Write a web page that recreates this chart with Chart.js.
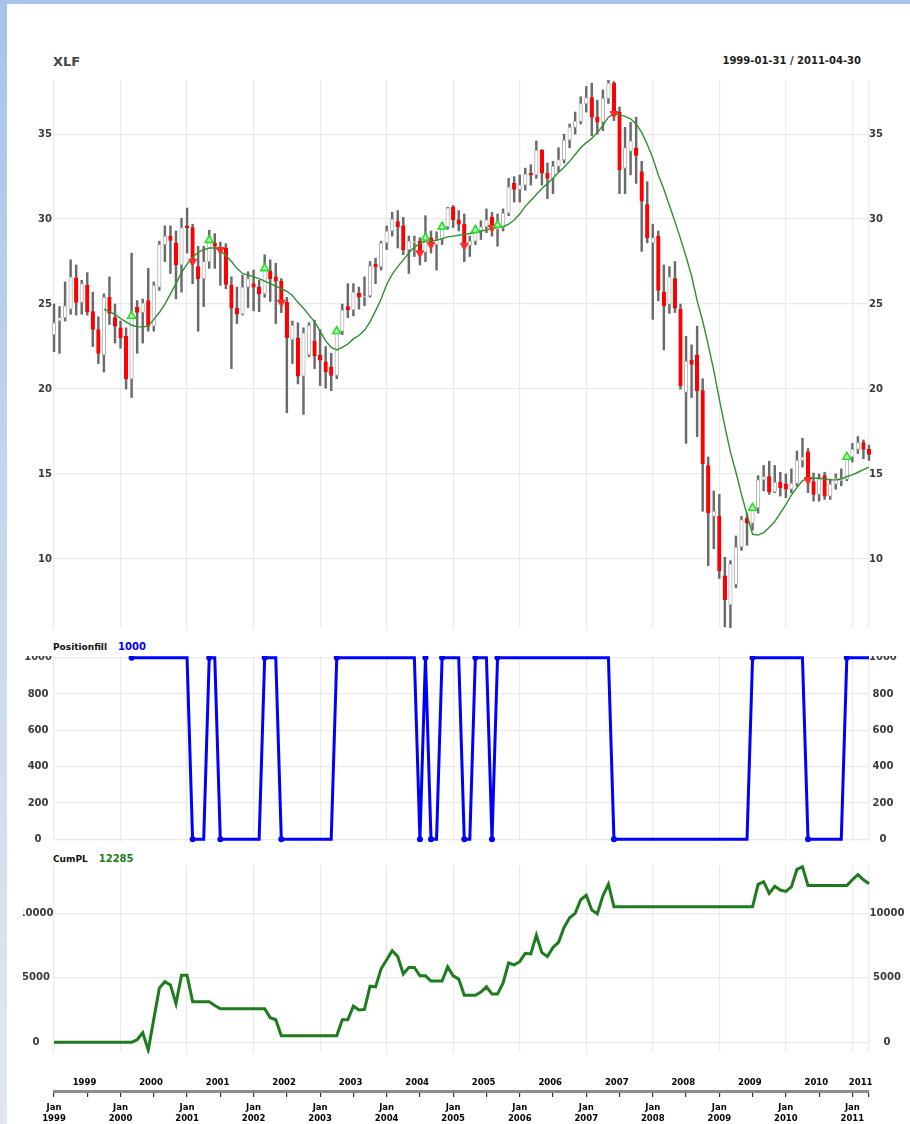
<!DOCTYPE html>
<html>
<head>
<meta charset="utf-8">
<title>XLF</title>
<script src="https://cdn.jsdelivr.net/npm/chart.js@4.4.1/dist/chart.umd.min.js"></script>
<style>
  html, body { margin:0; padding:0; }
  body { width:910px; height:1124px; position:relative; overflow:hidden;
         background: linear-gradient(to bottom, #a7c3e9 0%, #c6d6ec 45%, #e0e7f1 100%);
         font-family: "DejaVu Sans", sans-serif; }
  #sheet { position:absolute; left:7px; top:4px; width:903px; height:1120px; background:#fff; }
  canvas { position:absolute; display:block; }
  .lbl { position:absolute; white-space:nowrap; font-weight:bold; line-height:1; }
</style>
</head>
<body>
<div id="sheet"></div>
<div class="lbl" style="left:53px;top:55px;font-size:13px;color:#464646;">XLF</div>
<div class="lbl" style="right:49px;top:56px;font-size:10px;color:#1c1c1c;">1999-01-31 / 2011-04-30</div>
<div class="lbl" style="left:53px;top:642px;font-size:9px;color:#111;">Positionfill<span id="posVal" style="font-size:10px;color:#0000ff;margin-left:11px;">1000</span></div>
<div class="lbl" style="left:53px;top:854px;font-size:9px;color:#111;">CumPL<span id="plVal" style="font-size:10px;color:#1e7b1e;margin-left:11px;">12285</span></div>
<canvas id="cMain" width="910" height="560" style="left:0;top:74px;width:910px;height:560px;"></canvas>
<canvas id="cPos" width="910" height="190" style="left:0;top:656px;width:910px;height:190px;"></canvas>
<canvas id="cPL" width="887" height="192" style="left:23px;top:862px;width:887px;height:192px;"></canvas>
<canvas id="cAxis" width="910" height="52" style="left:0;top:1072px;width:910px;height:52px;"></canvas>
<script>
// ---------- categories (month ends) ----------
const months = [
"1999-01","1999-02","1999-03","1999-04","1999-05","1999-06","1999-07","1999-08","1999-09","1999-10","1999-11","1999-12",
"2000-01","2000-02","2000-03","2000-04","2000-05","2000-06","2000-07","2000-08","2000-09","2000-10","2000-11","2000-12",
"2001-01","2001-02","2001-03","2001-04","2001-05","2001-06","2001-07","2001-08","2001-09","2001-10","2001-11","2001-12",
"2002-01","2002-02","2002-03","2002-04","2002-05","2002-06","2002-07","2002-08","2002-09","2002-10","2002-11","2002-12",
"2003-01","2003-02","2003-03","2003-04","2003-05","2003-06","2003-07","2003-08","2003-09","2003-10","2003-11","2003-12",
"2004-01","2004-02","2004-03","2004-04","2004-05","2004-06","2004-07","2004-08","2004-09","2004-10","2004-11","2004-12",
"2005-01","2005-02","2005-03","2005-04","2005-05","2005-06","2005-07","2005-08","2005-09","2005-10","2005-11","2005-12",
"2006-01","2006-02","2006-03","2006-04","2006-05","2006-06","2006-07","2006-08","2006-09","2006-10","2006-11","2006-12",
"2007-01","2007-02","2007-03","2007-04","2007-05","2007-06","2007-07","2007-08","2007-09","2007-10","2007-11","2007-12",
"2008-01","2008-02","2008-03","2008-04","2008-05","2008-06","2008-07","2008-08","2008-09","2008-10","2008-11","2008-12",
"2009-01","2009-02","2009-03","2009-04","2009-05","2009-06","2009-07","2009-08","2009-09","2009-10","2009-11","2009-12",
"2010-01","2010-02","2010-03","2010-04","2010-05","2010-06","2010-07","2010-08","2010-09","2010-10","2010-11","2010-12",
"2011-01","2011-02","2011-03","2011-04"];

// ---------- XLF monthly OHLC ----------
const openPx = [
23.2,24.0,24.2,24.7,26.55,25.1,26.1,24.55,23.5,22.0,25.4,24.2,
23.6,23.1,20.6,24.8,24.5,25.2,23.7,26.0,28.5,29.0,28.6,27.3,
29.6,29.5,27.2,26.5,27.5,28.6,28.35,28.3,26.1,24.75,24.4,26.0,
26.2,26.0,25.6,26.95,26.6,26.35,25.1,22.9,23.0,20.75,22.0,22.8,
22.0,21.6,21.3,20.8,23.4,24.85,24.65,25.65,25.4,25.5,27.35,27.2,
28.6,29.3,29.85,29.6,28.2,28.6,28.7,28.05,28.9,28.5,28.8,29.55,
30.7,29.95,29.7,28.45,28.7,29.3,29.55,30.1,29.4,29.5,30.35,32.1,
31.75,32.0,32.7,32.6,34.05,32.7,32.4,33.1,33.5,34.65,35.4,35.75,
36.8,37.15,36.0,35.7,37.1,38.0,36.3,33.0,34.0,34.2,32.8,30.85,
28.6,29.0,25.7,25.0,26.5,24.7,19.8,21.7,22.0,19.9,15.5,12.5,
12.5,9.0,7.3,8.5,10.7,12.4,12.1,13.0,14.65,14.85,13.95,14.5,
14.4,14.1,14.45,15.8,16.3,14.55,13.8,14.9,13.7,14.4,14.6,14.7,
16.0,16.45,16.85,16.45];
const highPx = [
25.0,24.85,26.3,27.6,27.3,26.4,26.85,25.7,24.25,25.6,26.6,25.0,
24.0,23.6,28.0,25.2,25.3,27.1,26.3,28.7,29.6,29.6,29.3,30.05,
30.65,29.7,28.4,28.4,29.35,29.15,28.65,28.55,26.6,26.0,26.7,26.9,
27.0,26.4,27.9,27.6,27.4,26.5,25.4,24.0,23.9,23.6,23.9,24.05,
23.5,22.5,22.1,23.6,25.0,26.2,26.2,26.0,26.6,27.5,27.7,28.7,
29.6,30.4,30.5,30.1,29.0,29.0,28.9,30.2,29.3,29.25,29.8,30.7,
30.8,30.5,30.3,29.0,29.6,29.9,30.6,30.4,30.3,30.6,32.4,32.5,
32.6,33.0,33.2,34.6,34.1,33.3,33.4,34.2,35.0,35.6,36.3,37.2,
37.8,38.0,37.0,37.6,38.3,38.1,36.6,35.4,35.7,36.0,33.4,32.2,
29.7,29.3,27.3,27.2,27.5,25.0,23.1,22.6,23.7,20.6,16.0,14.0,
13.8,10.1,9.9,11.35,12.5,12.7,13.2,14.9,15.5,15.75,15.5,15.1,
15.0,15.3,16.35,17.1,16.5,15.05,15.0,15.1,14.7,15.0,15.3,16.1,
16.8,17.2,17.0,16.7];
const lowPx = [
22.2,22.1,24.0,24.4,24.35,24.4,24.35,22.5,21.5,21.0,23.8,22.7,
22.4,20.0,19.5,22.1,22.7,23.4,23.4,25.8,27.5,26.8,25.3,25.7,
28.0,26.2,23.4,24.85,27.1,27.1,26.1,25.9,21.2,23.85,24.35,24.8,
24.6,24.55,25.4,25.15,23.85,24.5,18.6,21.5,20.3,18.5,21.9,21.2,
20.2,20.05,19.9,20.6,23.2,24.2,24.3,24.7,24.9,25.4,26.2,27.0,
28.2,29.0,28.3,27.9,26.8,27.8,27.3,27.5,28.0,27.0,28.5,29.4,
29.5,29.3,27.5,27.8,28.5,28.8,29.2,29.0,28.4,29.3,30.2,31.0,
31.0,31.7,32.0,32.4,32.0,31.2,31.5,32.8,33.3,34.2,35.0,35.6,
36.3,34.9,35.0,35.2,36.8,35.8,31.5,31.5,32.6,32.1,28.1,28.6,
24.1,25.2,22.3,24.45,24.5,20.0,16.8,19.5,17.2,12.8,9.6,10.6,
8.85,6.0,5.9,8.3,10.5,10.8,11.7,12.7,14.0,13.8,13.9,13.7,
13.6,13.9,14.3,15.4,13.9,13.4,13.4,13.5,13.5,14.1,14.3,14.6,
15.7,16.2,15.9,15.8];
const closePx = [
23.9,24.2,24.9,26.6,25.1,26.2,24.55,23.5,22.1,25.4,24.45,23.7,
23.0,20.6,24.3,24.5,25.05,23.7,26.1,28.5,29.0,28.75,27.3,29.5,
29.5,27.45,26.5,27.5,28.7,28.4,28.15,26.15,24.75,24.4,26.0,26.5,
26.0,25.6,27.2,26.5,26.35,25.1,23.0,23.75,20.75,23.3,23.75,21.95,
21.7,21.0,20.8,23.4,24.65,24.65,25.7,25.4,25.45,27.25,27.2,28.6,
29.3,30.0,29.55,28.2,28.7,28.7,28.05,28.9,28.5,28.8,29.55,30.65,
29.95,29.7,28.45,28.7,29.3,29.55,29.95,29.4,29.5,30.35,31.9,31.75,
32.0,32.65,32.6,34.05,32.7,32.4,33.1,33.5,34.65,35.4,35.75,36.8,
37.15,36.0,35.7,37.1,38.0,36.25,32.9,34.2,34.6,33.75,31.05,28.9,
28.9,25.8,24.9,26.6,24.75,20.2,21.65,21.45,19.9,15.6,12.7,12.8,
9.3,7.6,9.7,10.7,12.3,12.1,12.9,14.65,14.85,13.95,14.5,14.2,
14.1,14.45,15.8,16.0,14.55,13.8,14.7,13.7,14.4,14.75,14.75,16.0,
16.45,16.85,16.45,16.15];

// ---------- moving average ----------
const smaPx = [
null,null,null,null,null,null,null,null,null,24.7,24.55,24.4,
24.15,23.95,23.75,23.67,23.65,23.7,24.1,24.5,25.0,25.6,26.2,26.85,
27.35,27.75,28.05,28.2,28.3,28.3,28.15,27.85,27.5,27.1,26.8,26.7,
26.6,26.5,26.35,26.2,26.05,25.9,25.75,25.5,25.1,24.75,24.35,23.95,
23.4,22.85,22.45,22.3,22.45,22.65,22.95,23.15,23.45,23.95,24.6,25.3,
26.15,26.75,27.2,27.6,28.0,28.35,28.55,28.7,28.75,28.75,28.85,28.95,
29.0,29.05,29.1,29.15,29.2,29.3,29.35,29.45,29.5,29.55,29.7,29.95,
30.3,30.75,31.1,31.45,31.8,32.1,32.4,32.75,33.05,33.4,33.8,34.2,
34.5,34.75,35.1,35.5,36.0,36.2,36.15,36.05,35.9,35.6,35.1,34.4,
33.6,32.6,31.75,30.8,29.85,28.85,27.8,26.65,25.2,24.0,22.6,21.1,
19.4,17.8,16.3,15.1,13.8,12.6,11.45,11.4,11.55,11.85,12.2,12.7,
13.2,13.75,14.2,14.6,14.75,14.75,14.75,14.7,14.65,14.65,14.7,14.85,
14.95,15.1,15.25,15.4];

// ---------- trade signals ----------
const buyIdx   = [14, 28, 38, 51, 67, 70, 76, 80, 126, 143];
const buyPrice = [24.3, 28.76, 27.1, 23.4, 28.9, 29.55, 29.35, 29.65, 13.0, 16.0];
const sellIdx   = [25, 30, 41, 66, 68, 74, 79, 101, 136];
const sellPrice = [27.5, 28.2, 25.1, 28.0, 28.5, 28.45, 29.5, 36.2, 14.65];

// ---------- position ----------
const position = [
null,null,null,null,null,null,null,null,null,null,null,null,
null,null,1000,1000,1000,1000,1000,1000,1000,1000,1000,1000,
1000,0,0,0,1000,1000,0,0,0,0,0,0,
0,0,1000,1000,1000,0,0,0,0,0,0,0,
0,0,0,1000,1000,1000,1000,1000,1000,1000,1000,1000,
1000,1000,1000,1000,1000,1000,0,1000,0,0,1000,1000,
1000,1000,0,0,1000,1000,1000,0,1000,1000,1000,1000,
1000,1000,1000,1000,1000,1000,1000,1000,1000,1000,1000,1000,
1000,1000,1000,1000,1000,0,0,0,0,0,0,0,
0,0,0,0,0,0,0,0,0,0,0,0,
0,0,0,0,0,0,1000,1000,1000,1000,1000,1000,
1000,1000,1000,1000,0,0,0,0,0,0,0,1000,
1000,1000,1000,1000];

// ---------- cumulative P&L ----------
const cumPL = [
0,0,0,0,0,0,0,0,0,0,0,0,
0,0,0,200,750,-600,1800,4200,4700,4450,3000,5200,
5200,3150,3150,3150,3150,2850,2600,2600,2600,2600,2600,2600,
2600,2600,2600,1900,1750,500,500,500,500,500,500,500,
500,500,500,500,1750,1750,2800,2500,2550,4350,4300,5700,
6400,7100,6650,5300,5800,5800,5150,5150,4750,4750,4750,5850,
5150,4900,3650,3650,3650,3900,4300,3750,3750,4600,6150,6000,
6250,6900,6850,8300,6950,6650,7350,7750,8900,9650,10000,11050,
11400,10250,9950,11350,12250,10500,10500,10500,10500,10500,10500,10500,
10500,10500,10500,10500,10500,10500,10500,10500,10500,10500,10500,10500,
10500,10500,10500,10500,10500,10500,10500,12250,12450,11550,12100,11800,
11700,12050,13400,13600,12150,12150,12150,12150,12150,12150,12150,12150,
12600,13000,12600,12285];

// ---------- tick labels ----------
const priceTicks = [10, 15, 20, 25, 30, 35];
const posTicks = [0, 200, 400, 600, 800, 1000];
const plTicks = [0, 5000, 10000];
const axisTickIdx = [0,6,12,18,24,30,36,42,48,54,60,66,72,78,84,90,96,102,108,114,120,126,132,138,144,147];
const yearLabels = ["1999","2000","2001","2002","2003","2004","2005","2006","2007","2008","2009","2010","2011"];
const yearMid = [5.5,17.5,29.5,41.5,53.5,65.5,77.5,89.5,101.5,113.5,125.5,137.5,145.5];

// ---------- derived tables ----------
const wicks = months.map((m, i) => [lowPx[i], highPx[i]]);
const bodies = months.map((m, i) => [openPx[i], closePx[i]]);
const buyMarks = months.map((m, i) => { const k = buyIdx.indexOf(i); return k < 0 ? null : buyPrice[k]; });
const sellMarks = months.map((m, i) => { const k = sellIdx.indexOf(i); return k < 0 ? null : sellPrice[k]; });
const isDown = i => closePx[i] < openPx[i];
const posDot = i => {
  const v = position[i];
  if (v === null) return 0;
  if (i === 0 || position[i - 1] === null || position[i - 1] !== v) return 3;
  return 0;
};
document.getElementById('posVal').textContent = String(position[position.length - 1]);
document.getElementById('plVal').textContent = String(cumPL[cumPL.length - 1]);

// ---------- shared styling ----------
Chart.defaults.font.family = '"DejaVu Sans", sans-serif';
const GRID = '#ebebeb';
const TICK_FONT = { size: 10, weight: 'bold' };
const TICK_COLOR = '#3a3a3a';
const lastIdx = months.length - 1;
const janLine = i => i % 12 === 0 || i === lastIdx;

function xCategory() {
  return {
    type: 'category', offset: false,
    grid: { offset: false, drawTicks: false, lineWidth: 1.2,
            color: c => janLine(c.index) ? GRID : 'rgba(0,0,0,0)' },
    border: { display: false },
    ticks: { display: false, autoSkip: false },
    afterFit: s => { s.height = 0; s.paddingLeft = 0; s.paddingRight = 0; }
  };
}
function yAxis(side, min, max, tickVals, width, pad, showGrid) {
  return {
    type: 'linear', position: side, min: min, max: max,
    afterBuildTicks: s => { s.ticks = tickVals.map(v => ({ value: v })); },
    ticks: { font: TICK_FONT, color: TICK_COLOR, crossAlign: 'center', padding: pad,
             autoSkip: false, callback: v => String(v) },
    grid: { display: showGrid, color: GRID, lineWidth: 1.2, drawTicks: false },
    border: { display: false },
    afterFit: s => { s.width = width; s.paddingTop = 0; s.paddingBottom = 0; }
  };
}
const baseOpts = {
  responsive: false, animation: false, events: [],
  plugins: { legend: { display: false }, tooltip: { enabled: false } }
};
const sideClip = { left: 4, right: 4, top: 0, bottom: 0 };

// ---------- price panel ----------
new Chart(document.getElementById('cMain'), {
  type: 'bar',
  data: {
    labels: months,
    datasets: [
      { type: 'line', label: 'buy', data: buyMarks, yAxisID: 'y', showLine: false,
        pointStyle: 'triangle', pointRadius: 4.5,
        pointBackgroundColor: 'rgba(200,255,200,0.9)', pointBorderColor: '#22e022',
        pointBorderWidth: 1.6, order: 0, clip: false },
      { type: 'line', label: 'sell', data: sellMarks, yAxisID: 'y', showLine: false,
        pointStyle: 'triangle', pointRotation: 180, pointRadius: 4.5,
        pointBackgroundColor: '#ff2a2a', pointBorderColor: '#ff2a2a',
        pointBorderWidth: 1, order: 0, clip: false },
      { type: 'line', label: 'SMA', data: smaPx, yAxisID: 'y', borderColor: '#2f8f2f',
        borderWidth: 1.4, pointRadius: 0, tension: 0, order: 1 },
      { label: 'body', data: bodies, yAxisID: 'y',
        backgroundColor: c => isDown(c.dataIndex) ? '#ff0000' : '#ffffff',
        borderColor: c => isDown(c.dataIndex) ? '#ff0000' : '#b2b2b2',
        borderWidth: 1, borderSkipped: false, barThickness: 3.6, grouped: false,
        order: 2, clip: sideClip },
      { label: 'wick', data: wicks, yAxisID: 'y', backgroundColor: '#6a6a6a',
        borderWidth: 0, barThickness: 1.8, grouped: false, order: 3, clip: sideClip }
    ]
  },
  options: Object.assign({}, baseOpts, {
    layout: { padding: { top: 6, bottom: 6, left: 0, right: 0 } },
    scales: {
      x: xCategory(),
      y: yAxis('left', 5.94, 38.18, priceTicks, 54, 2, true),
      y2: yAxis('right', 5.94, 38.18, priceTicks, 41, 0, false)
    }
  })
});

// ---------- position panel ----------
new Chart(document.getElementById('cPos'), {
  type: 'line',
  data: {
    labels: months,
    datasets: [{
      data: position, yAxisID: 'y', borderColor: '#0000ff', borderWidth: 3, tension: 0,
      pointRadius: c => posDot(c.dataIndex), pointBackgroundColor: '#0000ff',
      pointBorderColor: '#0000ff', pointBorderWidth: 0,
      clip: { left: 4, right: 4, top: 2, bottom: 2 }
    }]
  },
  options: Object.assign({}, baseOpts, {
    layout: { padding: { top: 0, bottom: 4, left: 0, right: 0 } },
    scales: {
      x: xCategory(),
      y: yAxis('left', -15, 1009, posTicks, 54, 2, true),
      y2: yAxis('right', -15, 1009, posTicks, 41, 0, false)
    }
  })
});

// ---------- cumulative P&L panel ----------
new Chart(document.getElementById('cPL'), {
  type: 'line',
  data: {
    labels: months,
    datasets: [{
      data: cumPL, yAxisID: 'y', borderColor: '#1e7b1e', borderWidth: 3, tension: 0,
      pointRadius: 0, clip: { left: 4, right: 4, top: 2, bottom: 2 }
    }]
  },
  options: Object.assign({}, baseOpts, {
    layout: { padding: { top: 3, bottom: 2.3, left: 0, right: 0 } },
    scales: {
      x: xCategory(),
      y: yAxis('left', -729, 13744, plTicks, 31, 0.6, true),
      y2: yAxis('right', -729, 13744, plTicks, 41, 0.6, false)
    }
  })
});

// ---------- time axis ----------
new Chart(document.getElementById('cAxis'), {
  type: 'line',
  data: { datasets: [{ data: [] }] },
  options: Object.assign({}, baseOpts, {
    layout: { padding: { top: 0, bottom: 0, left: 54, right: 41 } },
    scales: {
      x: {
        type: 'linear', position: 'bottom', min: 0, max: lastIdx,
        afterBuildTicks: s => { s.ticks = axisTickIdx.map(v => ({ value: v })); },
        ticks: { autoSkip: false, maxRotation: 0, minRotation: 0,
                 font: { size: 8.5, weight: 'bold' }, color: '#000', padding: 6,
                 callback: v => (v % 12 === 0) ? ['Jan', yearLabels[v / 12]] : '' },
        grid: { drawOnChartArea: false, drawTicks: true, tickLength: 6, color: '#333', lineWidth: 1.2 },
        border: { display: true, color: '#8c8c8c', width: 3 },
        afterFit: s => { s.height = 33; s.paddingLeft = 0; s.paddingRight = 0; }
      },
      xTop: {
        type: 'linear', position: 'top', min: 0, max: lastIdx,
        afterBuildTicks: s => { s.ticks = yearMid.map(v => ({ value: v })); },
        ticks: { autoSkip: false, maxRotation: 0, minRotation: 0,
                 font: { size: 8.5, weight: 'bold' }, color: '#000', padding: 1,
                 callback: (v, i) => yearLabels[i] },
        grid: { display: false, drawTicks: false },
        border: { display: false },
        afterFit: s => { s.height = 17; s.paddingLeft = 0; s.paddingRight = 0; }
      },
      y: { display: false }
    }
  })
});
</script>
</body>
</html>
